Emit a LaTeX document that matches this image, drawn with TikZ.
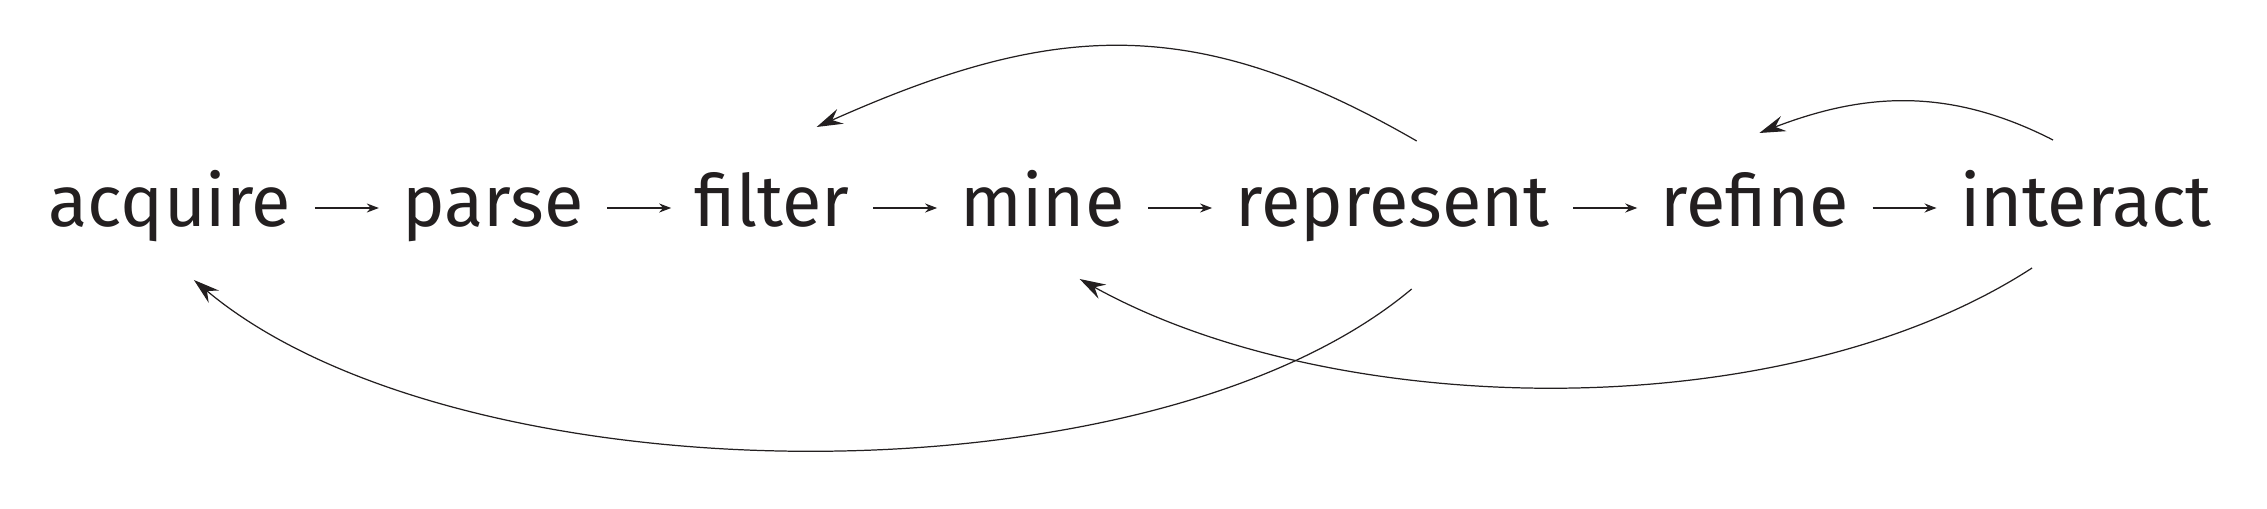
\documentclass[tikz,border=0pt]{standalone}
\usepackage{fontspec}
\setmainfont{Fira Sans}
\usetikzlibrary{positioning,arrows.meta}
\definecolor{ink}{RGB}{35,31,32}

\begin{document}
\fontsize{20.5}{24}\selectfont
\begin{tikzpicture}[node distance={6.4mm},
    stage/.style = {inner xsep=2.3mm, inner ysep=0pt, text=ink},
    flow/.style = {draw=ink, line width=0.5pt, -{Stealth[length=1.2mm, width=0.9mm]}},
    back/.style = {draw=ink, line width=0.35pt, -{Stealth[length=2.6mm, width=1.6mm, inset=0.9mm]}}]
    \useasboundingbox (0,0) rectangle (226.7mm,50.9mm);
    % Nodes
    \node[stage, anchor=base west] (acquire) at (2.5mm,28.2mm) {acquire};
    \node[stage, base right=of acquire] (parse) {parse};
    \node[stage, base right=of parse] (filter) {filter};
    \node[stage, base right=of filter] (mine) {mine};
    \node[stage, base right=of mine] (represent) {represent};
    \node[stage, base right=of represent] (refine) {refine};
    \node[stage, base right=of refine] (interact) {interact};

    % Steps
    \draw[flow] (acquire.mid east) -- (parse.mid west);
    \draw[flow] (parse.mid east) -- (filter.mid west);
    \draw[flow] (filter.mid east) -- (mine.mid west);
    \draw[flow] (mine.mid east) -- (represent.mid west);
    \draw[flow] (represent.mid east) -- (refine.mid west);
    \draw[flow] (refine.mid east) -- (interact.mid west);

    % Feedback
    \draw[back] ([xshift=2.4mm, yshift=8.6mm]represent.base) to[out=150, in=24, looseness=1.1] ([xshift=4.45mm, yshift=10mm]filter.base);
    \draw[back] ([xshift=-3.3mm, yshift=8.7mm]interact.base) to[out=153, in=21] ([xshift=0.45mm, yshift=9.4mm]refine.base);
    \draw[back] ([xshift=1.9mm, yshift=-6.2mm]represent.base) to[out=220, in=-40, looseness=0.72] ([xshift=2.4mm, yshift=-5.3mm]acquire.base);
    \draw[back] ([xshift=-5.4mm, yshift=-4.1mm]interact.base) to[out=213, in=-29, looseness=0.79] ([xshift=3.7mm, yshift=-5.2mm]mine.base);
\end{tikzpicture}
\end{document}
